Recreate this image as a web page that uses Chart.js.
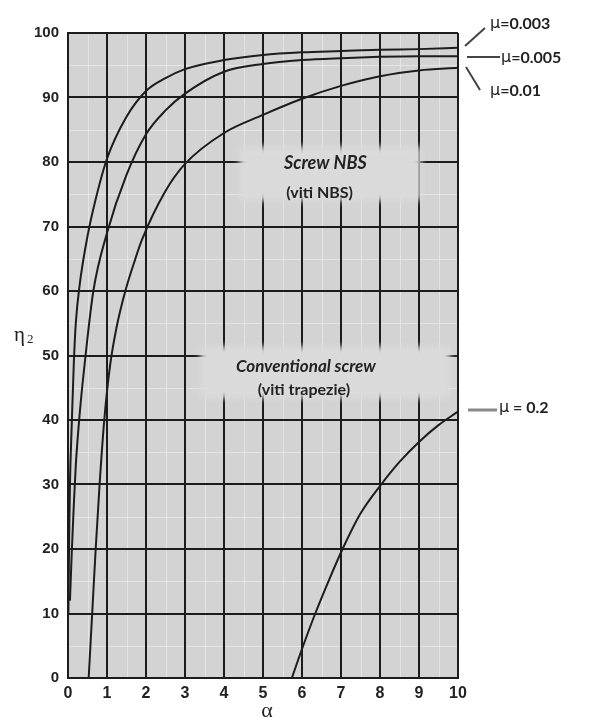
<!DOCTYPE html>
<html>
<head>
<meta charset="utf-8">
<script src="https://cdn.jsdelivr.net/npm/chart.js@4.4.0/dist/chart.umd.min.js"></script>
<style>
  body { margin: 0; background: #fff; }
  #wrap { width: 590px; height: 720px; position: relative; }
</style>
</head>
<body>
<div id="wrap"><canvas id="myChart"></canvas></div>
<script>
// curve data (alpha in deg, eta2 in %)
var alpha003 = [0.01, 0.03, 0.05, 0.1, 0.15, 0.2, 0.3, 0.5, 0.7, 1, 1.5, 2, 2.5, 3, 4, 5, 6, 7, 8, 9, 10];
var eta003   = [10, 22, 30, 40, 49, 55, 61, 68.5, 74, 80.5, 87, 91, 93, 94.4, 95.8, 96.6, 97, 97.2, 97.4, 97.5, 97.7];

var alpha005 = [0.05, 0.1, 0.15, 0.2, 0.3, 0.45, 0.65, 1, 1.5, 2, 2.5, 3, 4, 5, 6, 7, 8, 9, 10];
var eta005   = [12, 20, 27, 33, 41, 50, 60, 69, 78, 84.3, 88, 90.6, 94, 95.2, 95.8, 96.1, 96.3, 96.4, 96.4];

var alpha01 = [0.53, 0.62, 0.71, 0.81, 0.93, 1.08, 1.25, 1.47, 1.7, 1.9, 2.5, 3, 4, 5, 6, 7, 8, 9, 10];
var eta01   = [0, 10, 20, 30, 40, 48.5, 54.5, 60, 64.5, 68, 75.5, 79.7, 84.5, 87.3, 89.8, 91.8, 93.3, 94.2, 94.6];

var alpha02 = [5.74, 6, 6.34, 6.7, 7.04, 7.5, 8.03, 8.5, 9, 9.5, 10];
var eta02   = [0, 4.5, 10, 15.3, 20, 25.5, 30, 33.5, 36.6, 39.2, 41.3];

var xTicks = ['0', '1', '2', '3', '4', '5', '6', '7', '8', '9', '10'];
var yTicks = ['0', '10', '20', '30', '40', '50', '60', '70', '80', '90', '100'];

function pts(xs, ys) {
    return xs.map(function (x, i) { return { x: x, y: ys[i] }; });
}

var ink = '#1c1c1c';

var background = {
    id: 'background',
    beforeDraw: function (chart) {
        var a = chart.chartArea, ctx = chart.ctx;
        var x = chart.scales.x, y = chart.scales.y;
        ctx.save();
        ctx.fillStyle = '#d3d3d3';
        ctx.fillRect(a.left, a.top, a.right - a.left, a.bottom - a.top);
        // faint minor lines of the printed paper
        ctx.strokeStyle = 'rgba(235,235,235,0.7)';
        ctx.lineWidth = 1;
        for (var v = 0.5; v < 10; v += 1) {
            var px = Math.round(x.getPixelForValue(v)) + 0.5;
            ctx.beginPath(); ctx.moveTo(px, a.top); ctx.lineTo(px, a.bottom); ctx.stroke();
        }
        for (var w = 5; w < 100; w += 10) {
            var py = Math.round(y.getPixelForValue(w)) + 0.5;
            ctx.beginPath(); ctx.moveTo(a.left, py); ctx.lineTo(a.right, py); ctx.stroke();
        }
        ctx.restore();
    }
};

var notes = {
    id: 'notes',
    afterDraw: function (chart) {
        var ctx = chart.ctx;
        var x = chart.scales.x, y = chart.scales.y;
        ctx.save();

        // light patches behind the two captions
        ctx.filter = 'blur(3px)';
        ctx.fillStyle = '#dadada';
        ctx.fillRect(x.getPixelForValue(4.4), y.getPixelForValue(82.4), x.getPixelForValue(9.05) - x.getPixelForValue(4.4), y.getPixelForValue(74) - y.getPixelForValue(82.4));
        ctx.fillRect(x.getPixelForValue(3.4), y.getPixelForValue(51.4), x.getPixelForValue(9.8) - x.getPixelForValue(3.4), y.getPixelForValue(43.4) - y.getPixelForValue(51.4));
        ctx.filter = 'none';

        ctx.fillStyle = '#222';
        ctx.textAlign = 'center';
        ctx.textBaseline = 'middle';
        ctx.font = 'italic bold 18px Lato, "Open Sans", sans-serif';
        ctx.fillText('Screw NBS', x.getPixelForValue(6.6), y.getPixelForValue(79.8));
        ctx.font = 'bold 16px Lato, "Open Sans", sans-serif';
        ctx.fillText('(viti NBS)', x.getPixelForValue(6.45), y.getPixelForValue(75.2));
        ctx.font = 'italic bold 17px Lato, "Open Sans", sans-serif';
        ctx.fillText('Conventional screw', x.getPixelForValue(6.1), y.getPixelForValue(48.3));
        ctx.font = 'bold 16px Lato, "Open Sans", sans-serif';
        ctx.fillText('(viti trapezie)', x.getPixelForValue(6.05), y.getPixelForValue(44.6));

        // leader lines to the mu labels
        ctx.strokeStyle = '#444';
        ctx.lineWidth = 2;
        ctx.beginPath(); ctx.moveTo(465, 46); ctx.lineTo(485, 28); ctx.stroke();
        ctx.beginPath(); ctx.moveTo(467, 57); ctx.lineTo(500, 57); ctx.stroke();
        ctx.beginPath(); ctx.moveTo(466, 67); ctx.lineTo(480, 90); ctx.stroke();
        ctx.strokeStyle = '#8a8a8a';
        ctx.lineWidth = 3;
        ctx.beginPath(); ctx.moveTo(468, 410); ctx.lineTo(497, 410); ctx.stroke();

        function mu(label, lx, ly) {
            ctx.textAlign = 'left';
            ctx.font = '16px "DejaVu Sans", sans-serif';
            ctx.fillText('\u03bc', lx, ly);
            var w = ctx.measureText('\u03bc').width;
            ctx.font = 'bold 16px Lato, "Open Sans", sans-serif';
            ctx.fillText(label, lx + w, ly);
        }
        ctx.fillStyle = '#222';
        mu('=0.003', 490, 24);
        mu('=0.005', 501, 58);
        mu('=0.01', 490, 91);
        mu(' = 0.2', 499, 408);

        // axis titles
        ctx.textAlign = 'left';
        ctx.font = '21px "Liberation Serif", serif';
        ctx.fillText('\u03b7', 14, 335);
        ctx.font = '13px "Liberation Serif", serif';
        ctx.fillText('2', 27, 340);
        ctx.textAlign = 'center';
        ctx.font = '22px "Liberation Serif", serif';
        ctx.fillText('\u03b1', x.getPixelForValue(5.1), 711);
        ctx.restore();
    }
};

var line = function (data) {
    return {
        data: data,
        showLine: true,
        borderColor: ink,
        borderWidth: 2,
        pointRadius: 0,
        cubicInterpolationMode: 'monotone',
        fill: false
    };
};

var ctx = document.getElementById('myChart').getContext('2d');
var myChart = new Chart(ctx, {
    type: 'scatter',
    data: {
        datasets: [
            line(pts(alpha003, eta003)),
            line(pts(alpha005, eta005)),
            line(pts(alpha01, eta01)),
            line(pts(alpha02, eta02))
        ]
    },
    options: {
        responsive: true,
        maintainAspectRatio: false,
        animation: false,
        events: [],
        layout: { padding: { left: 0, top: 33, right: 132, bottom: 0 } },
        plugins: { legend: { display: false }, tooltip: { enabled: false } },
        scales: {
            x: {
                type: 'linear',
                min: 0,
                max: 10,
                afterFit: function (scale) { scale.height = 42; },
                grid: { color: ink, lineWidth: 2, drawTicks: false },
                border: { color: ink, width: 2 },
                ticks: {
                    stepSize: 1,
                    padding: 6,
                    color: '#222',
                    font: { family: '"Liberation Sans Narrow", "Liberation Sans", sans-serif', size: 16, weight: 'bold' },
                    callback: function (v, i) { return xTicks[i]; }
                }
            },
            y: {
                min: 0,
                max: 100,
                afterFit: function (scale) { scale.width = 68; },
                grid: { color: ink, lineWidth: 2, drawTicks: false },
                border: { color: ink, width: 2 },
                ticks: {
                    stepSize: 10,
                    padding: 9,
                    color: '#222',
                    font: { family: '"Liberation Sans", sans-serif', size: 15, weight: 'bold' },
                    callback: function (v, i) { return yTicks[i]; }
                }
            }
        }
    },
    plugins: [background, notes]
});
</script>
</body>
</html>
